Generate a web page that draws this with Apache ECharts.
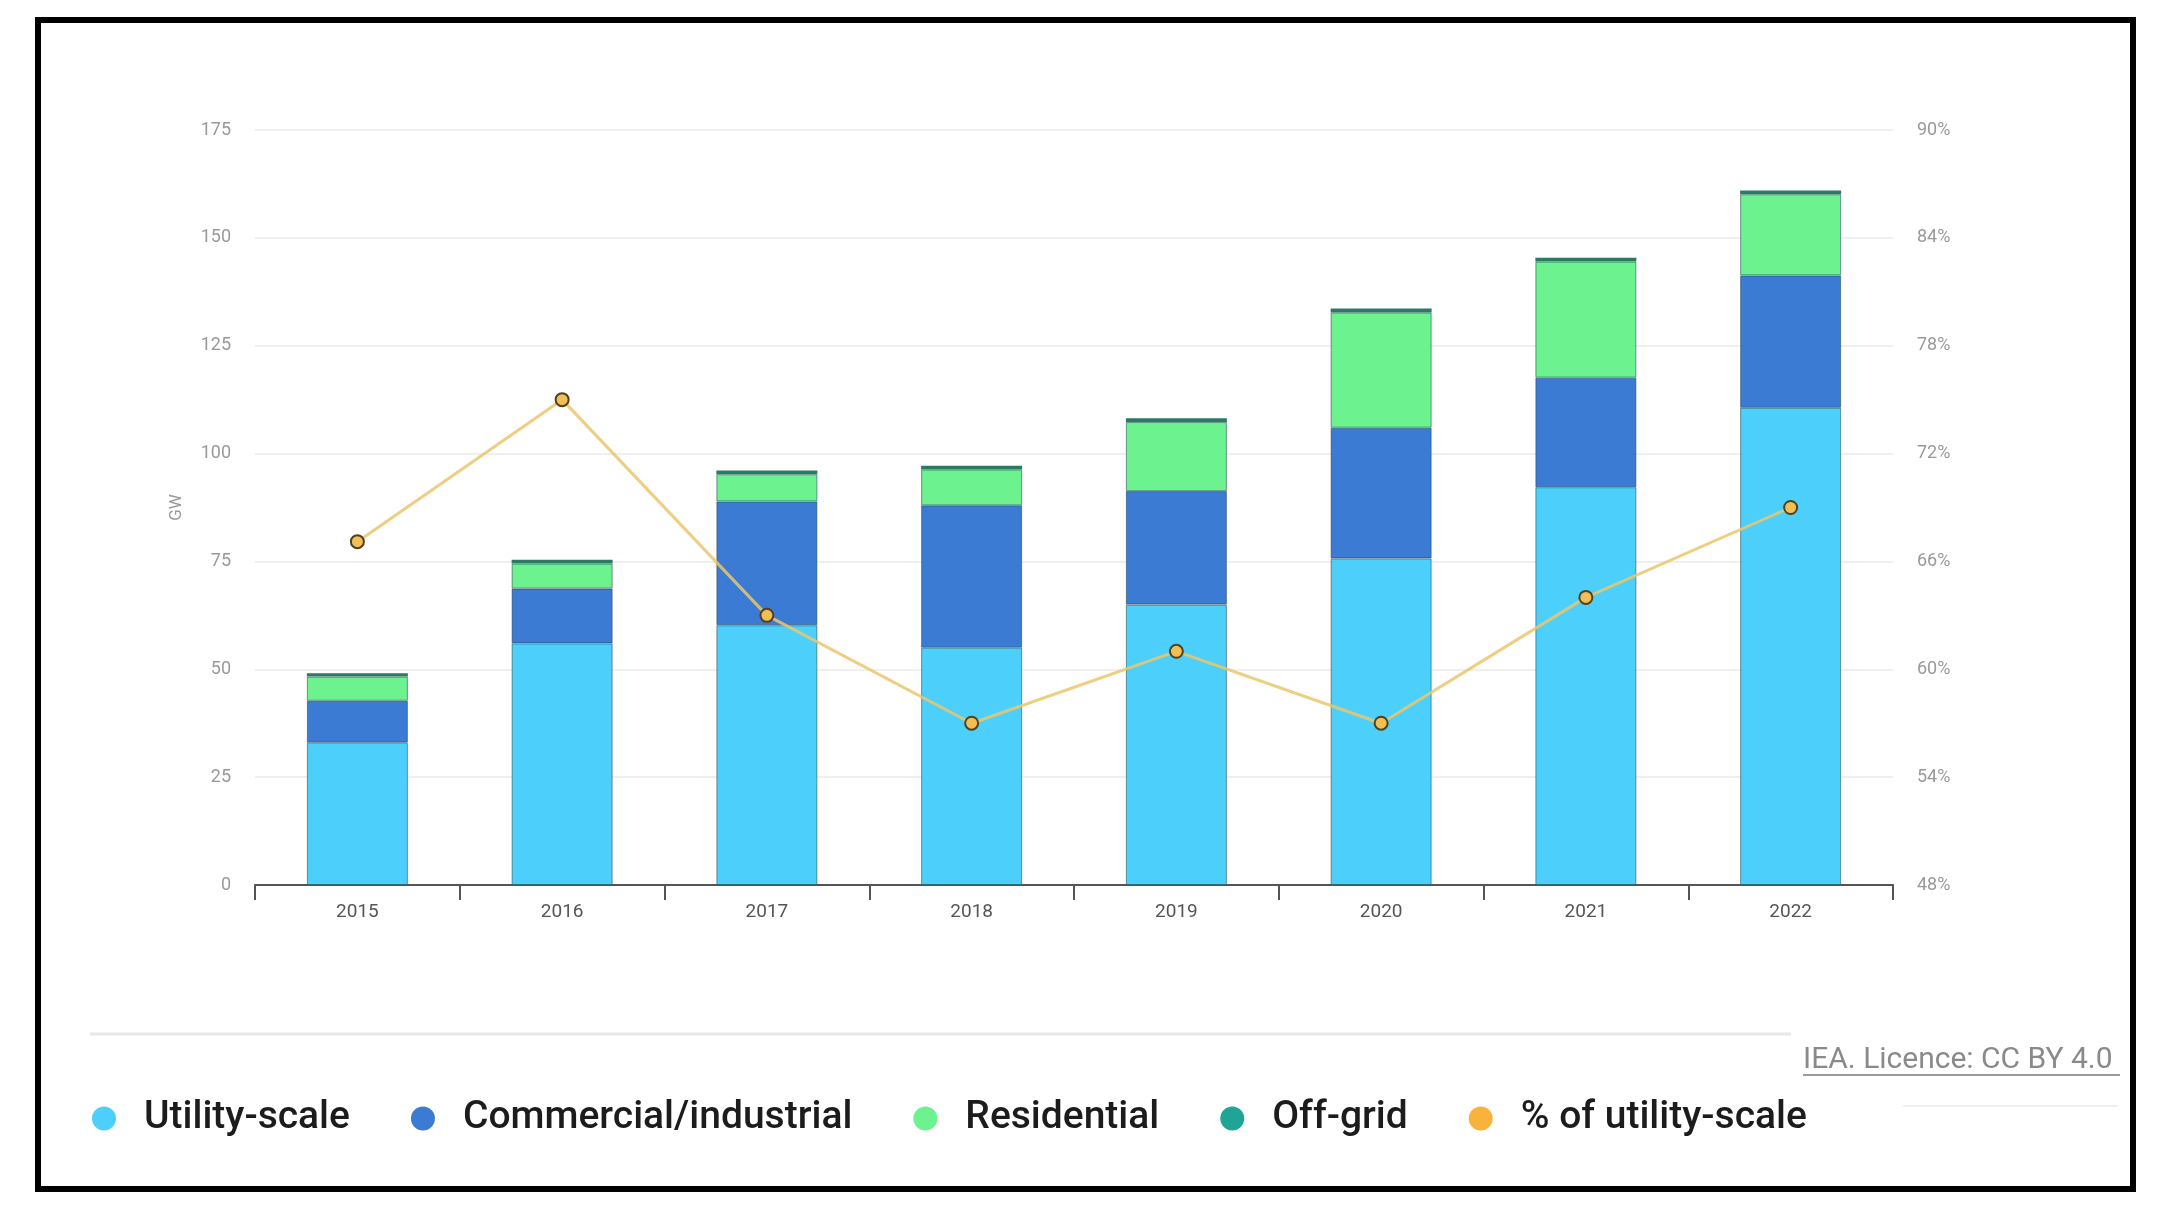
<!DOCTYPE html>
<html>
<head>
<meta charset="utf-8">
<script src="https://cdn.jsdelivr.net/npm/echarts@6/dist/echarts.min.js"></script>
<style>
html,body{margin:0;padding:0;background:#fff;}
#c{width:2173px;height:1218px;}
</style>
</head>
<body>
<div id="c"></div>
<script>
var years = ['2015','2016','2017','2018','2019','2020','2021','2022'];
var utility = [33, 56, 60.2, 55, 65, 75.7, 92.2, 110.6];
var commercial = [9.7, 12.7, 28.7, 33, 26.3, 30.3, 25.4, 30.7];
var residential = [5.6, 5.8, 6.3, 8.3, 16, 26.7, 26.9, 18.8];
var offgrid = [0.8, 0.9, 0.9, 0.9, 0.9, 0.9, 0.9, 0.9];
var shareUtility = [67.1, 75.0, 63.0, 57.0, 61.0, 57.0, 64.0, 69.0];
var leftTicks = {min: 0, max: 175, interval: 25};
var rightTicks = {min: 48, max: 90, interval: 6};

var chart = echarts.init(document.getElementById('c'));
var barBorder = {borderColor: 'rgba(30,70,80,0.55)', borderWidth: 1};
function barSeries(name, data, color) {
  return {
    name: name, type: 'bar', stack: 'total', data: data, barWidth: 101,
    itemStyle: Object.assign({color: color}, barBorder)
  };
}
chart.setOption({
  animation: false,
  backgroundColor: '#fff',
  textStyle: {fontFamily: 'Roboto'},
  grid: {left: 255, right: 280, top: 130, bottom: 333},
  legend: {
    left: 87, top: 1094, icon: 'circle', itemWidth: 70, itemHeight: 24, itemGap: 61,
    itemStyle: {borderWidth: 0},
    textStyle: {fontSize: 39, fontWeight: 500, color: '#1c1c1c', fontFamily: 'Roboto'},
    data: [
      {name: 'Utility-scale', itemStyle: {color: '#4cd0fb', borderWidth: 0}},
      {name: 'Commercial/industrial', itemStyle: {color: '#3b7bd4', borderWidth: 0}},
      {name: 'Residential', itemStyle: {color: '#6cf28f', borderWidth: 0}},
      {name: 'Off-grid', itemStyle: {color: '#1fa595', borderWidth: 0}},
      {name: '% of utility-scale', itemStyle: {color: '#f9b23c', borderWidth: 0}}
    ]
  },
  xAxis: {
    type: 'category', data: years,
    axisLine: {lineStyle: {color: '#555', width: 2}},
    axisTick: {show: true, length: 15, lineStyle: {color: '#555', width: 2}},
    axisLabel: {color: '#555', fontSize: 19, margin: 18}
  },
  yAxis: [
    {
      type: 'value', min: leftTicks.min, max: leftTicks.max, interval: leftTicks.interval,
      name: 'GW', nameLocation: 'middle', nameGap: 70, nameRotate: 90,
      nameTextStyle: {color: '#999', fontSize: 17},
      axisLine: {show: false}, axisTick: {show: false},
      axisLabel: {color: '#999', fontSize: 18, margin: 24, padding: [14, 0, 0, 0]},
      splitLine: {lineStyle: {color: '#efefef', width: 2}}
    },
    {
      type: 'value', min: rightTicks.min, max: rightTicks.max, interval: rightTicks.interval,
      position: 'right',
      axisLine: {show: false}, axisTick: {show: false},
      axisLabel: {color: '#999', fontSize: 18, margin: 24, padding: [14, 0, 0, 0], formatter: '{value}%'},
      splitLine: {show: false}
    }
  ],
  series: [
    barSeries('Utility-scale', utility, '#4cd0fb'),
    barSeries('Commercial/industrial', commercial, '#3b7bd4'),
    barSeries('Residential', residential, '#6cf28f'),
    {
      name: 'Off-grid', type: 'bar', stack: 'total', data: offgrid, barWidth: 101,
      itemStyle: {color: '#2a7a66'}
    },
    {
      name: '% of utility-scale', type: 'line', yAxisIndex: 1, data: shareUtility,
      symbol: 'circle', symbolSize: 13, z: 5,
      lineStyle: {color: '#ebc56c', width: 3, opacity: 0.85},
      itemStyle: {color: '#f2bf55', borderColor: '#4f4220', borderWidth: 2}
    }
  ],
  graphic: [
    {type: 'rect', shape: {x: 38, y: 20, width: 2095, height: 1169},
     style: {fill: 'none', stroke: '#000', lineWidth: 6}, z: 100},
    {type: 'line', shape: {x1: 90, y1: 1034, x2: 1791, y2: 1034},
     style: {stroke: '#e8e8e8', lineWidth: 3}},
    {type: 'text', left: 1803, top: 1045,
     style: {text: 'IEA. Licence: CC BY 4.0', fill: '#8a8a8a', fontSize: 30, fontFamily: 'Roboto'}},
    {type: 'line', shape: {x1: 1803, y1: 1075, x2: 2120, y2: 1075},
     style: {stroke: '#9a9a9a', lineWidth: 2}},
    {type: 'line', shape: {x1: 1903, y1: 1106, x2: 2118, y2: 1106},
     style: {stroke: '#f0f0f0', lineWidth: 2}}
  ]
});
</script>
</body>
</html>
